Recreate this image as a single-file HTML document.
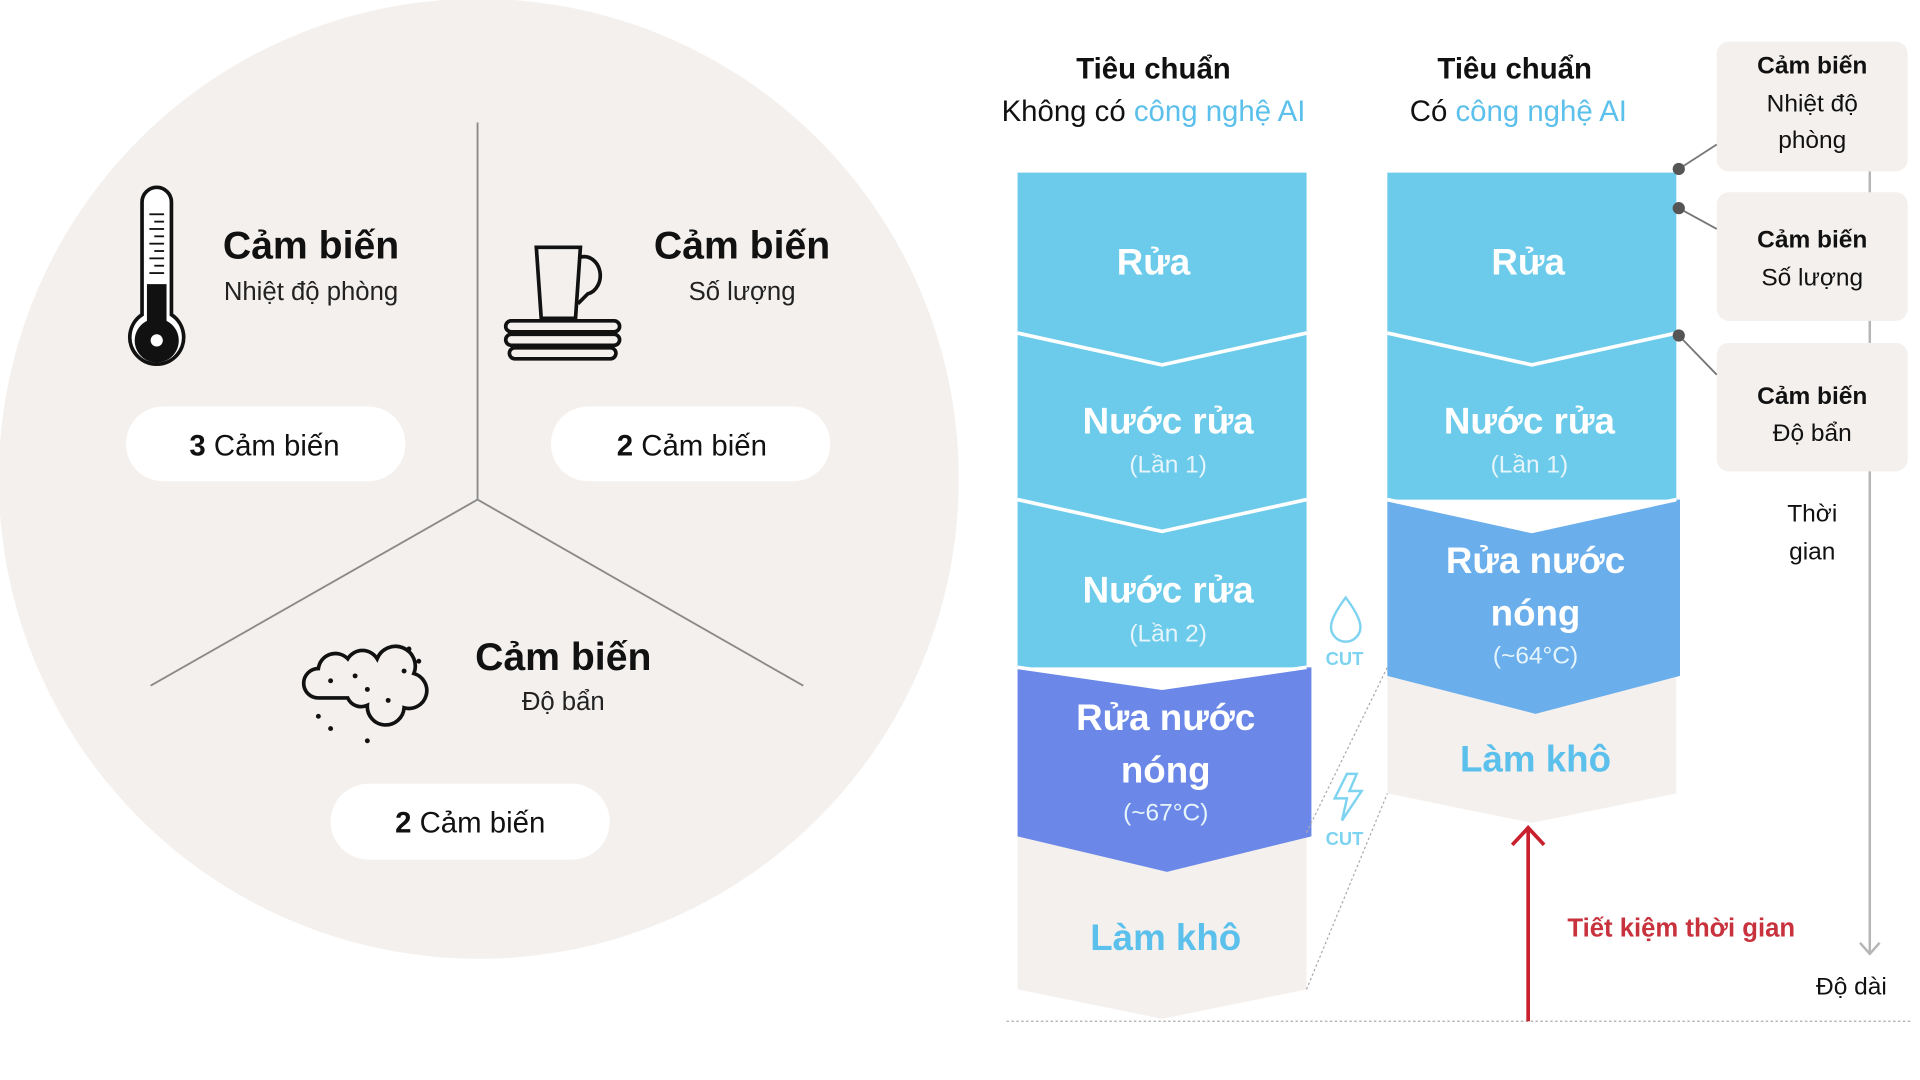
<!DOCTYPE html>
<html><head><meta charset="utf-8"><style>
html,body{margin:0;padding:0;background:#fff;width:1920px;height:1080px;overflow:hidden}
svg{display:block}
text{font-family:"Liberation Sans","DejaVu Sans",sans-serif}
.b{font-weight:bold}
</style></head><body>
<svg width="1920" height="1080" viewBox="0 0 1568 882" xmlns="http://www.w3.org/2000/svg">
<circle cx="391" cy="391" r="392" fill="#f3f0ee"/>
<g stroke="#8a8a8a" stroke-width="1.5" fill="none">
<line x1="390" y1="100" x2="390" y2="408"/>
<line x1="390" y1="408" x2="123" y2="560"/>
<line x1="390" y1="408" x2="656" y2="560"/>
</g>
<g stroke="#111" fill="none" stroke-width="3">
<path d="M116 165 a12 12 0 0 1 24 0 v92 a22 22 0 1 1 -24 0 z" fill="#fff"/>
</g>
<path d="M120 232 h16 v30 a18 18 0 1 1 -16 0z" fill="#111"/>
<circle cx="128" cy="278" r="5" fill="#fff"/>
<g stroke="#111" stroke-width="1.5">
<line x1="122" y1="175" x2="134" y2="175"/><line x1="126" y1="181" x2="134" y2="181"/><line x1="122" y1="187" x2="134" y2="187"/><line x1="126" y1="193" x2="134" y2="193"/><line x1="122" y1="199" x2="134" y2="199"/><line x1="126" y1="205" x2="134" y2="205"/><line x1="122" y1="211" x2="134" y2="211"/><line x1="126" y1="217" x2="134" y2="217"/><line x1="122" y1="223" x2="134" y2="223"/>
</g>
<text x="254" y="211" font-size="32" class="b" text-anchor="middle" fill="#111">Cảm biến</text>
<text x="254" y="245" font-size="21" text-anchor="middle" fill="#222">Nhiệt độ phòng</text>
<rect x="103" y="332" width="228" height="61" rx="30" fill="#fff"/>
<text x="216" y="372" font-size="24" text-anchor="middle" fill="#111"><tspan class="b">3</tspan> Cảm biến</text>
<g stroke="#111" stroke-width="3" fill="none">
<path d="M438 202 h36 l-4 58 h-28 z"/>
<path d="M474 210 a12 14 0 0 1 6 30 l-8 8"/>
<rect x="413" y="262" width="93" height="9" rx="4.5"/>
<rect x="413" y="273" width="93" height="9" rx="4.5"/>
<rect x="416" y="284" width="87" height="9" rx="4.5"/>
</g>
<text x="606" y="211" font-size="32" class="b" text-anchor="middle" fill="#111">Cảm biến</text>
<text x="606" y="245" font-size="21" text-anchor="middle" fill="#222">Số lượng</text>
<rect x="450" y="332" width="228" height="61" rx="30" fill="#fff"/>
<text x="565" y="372" font-size="24" text-anchor="middle" fill="#111"><tspan class="b">2</tspan> Cảm biến</text>
<g stroke="#111" stroke-width="3" fill="none">
<path d="M260 570 a12 12 0 0 1 0 -24 a14 14 0 0 1 24 -8 a14 14 0 0 1 24 0 a16 16 0 0 1 30 12 a14 14 0 0 1 -8 28 a14 14 0 0 1 -30 -2 a12 12 0 0 1 -16 -6 z"/>
</g>
<g fill="#111"><circle cx="270" cy="556" r="2"/><circle cx="300" cy="563" r="2"/><circle cx="317" cy="572" r="2"/><circle cx="330" cy="548" r="2"/><circle cx="334" cy="530" r="2"/><circle cx="342" cy="540" r="2"/><circle cx="260" cy="585" r="2"/><circle cx="270" cy="595" r="2"/><circle cx="300" cy="605" r="2"/><circle cx="290" cy="552" r="2"/></g>
<text x="460" y="547" font-size="32" class="b" text-anchor="middle" fill="#111">Cảm biến</text>
<text x="460" y="580" font-size="21" text-anchor="middle" fill="#222">Độ bẩn</text>
<rect x="270" y="640" width="228" height="62" rx="31" fill="#fff"/>
<text x="384" y="680" font-size="24" text-anchor="middle" fill="#111"><tspan class="b">2</tspan> Cảm biến</text>

<text x="942" y="64" font-size="24" class="b" text-anchor="middle" fill="#111">Tiêu chuẩn</text>
<text x="942" y="99" font-size="24" text-anchor="middle" fill="#111">Không có <tspan fill="#5bc0eb">công nghệ AI</tspan></text>
<text x="1237" y="64" font-size="24" class="b" text-anchor="middle" fill="#111">Tiêu chuẩn</text>
<text x="1240" y="99" font-size="24" text-anchor="middle" fill="#111">Có <tspan fill="#5bc0eb">công nghệ AI</tspan></text>

<polygon points="831,683 1067,683 1067,808 949,832 831,808" fill="#f4f0ee"/>
<polygon points="831,141 1067,141 1067,545 831,545" fill="#6ccbea"/>
<polygon points="831,545 949,562 1067,545 1071,545 1071,683 953,712 831,683" fill="#6b88e8"/>
<g stroke="#fff" stroke-width="3" fill="none">
<polyline points="831,272 949,298 1067,272"/>
<polyline points="831,408 949,434 1067,408"/>
<polyline points="831,545 949,562 1067,545"/>
</g>
<g fill="#fff" text-anchor="middle">
<text x="942" y="224" font-size="30" class="b">Rửa</text>
<text x="954" y="354" font-size="30" class="b">Nước rửa</text>
<text x="954" y="492" font-size="30" class="b">Nước rửa</text>
<text x="952" y="596" font-size="30" class="b">Rửa nước</text>
<text x="952" y="639" font-size="30" class="b">nóng</text>
</g>
<g fill="#e6f5fb" text-anchor="middle" font-size="20">
<text x="954" y="386">(Lần 1)</text>
<text x="954" y="524">(Lần 2)</text>
<text x="952" y="670">(~67°C)</text>
</g>
<text x="952" y="776" font-size="30" class="b" text-anchor="middle" fill="#5bc0eb">Làm khô</text>

<polygon points="1133,552 1369,552 1369,648 1251,672 1133,648" fill="#f4f0ee"/>
<polygon points="1133,141 1369,141 1369,408 1133,408" fill="#6ccbea"/>
<polygon points="1133,408 1251,434 1369,408 1372,408 1372,552 1254,583 1133,552" fill="#6aaeec"/>
<g stroke="#fff" stroke-width="3" fill="none">
<polyline points="1133,272 1251,298 1369,272"/>
<polyline points="1133,408 1251,434 1369,408"/>
</g>
<g fill="#fff" text-anchor="middle">
<text x="1248" y="224" font-size="30" class="b">Rửa</text>
<text x="1249" y="354" font-size="30" class="b">Nước rửa</text>
<text x="1254" y="468" font-size="30" class="b">Rửa nước</text>
<text x="1254" y="511" font-size="30" class="b">nóng</text>
<text x="1249" y="386" font-size="20" fill="#e6f5fb">(Lần 1)</text>
<text x="1254" y="542" font-size="20" fill="#e6f5fb">(~64°C)</text>
</g>
<text x="1254" y="630" font-size="30" class="b" text-anchor="middle" fill="#5bc0eb">Làm khô</text>

<g stroke="#aaa" stroke-width="1" stroke-dasharray="2,2" fill="none">
<line x1="1067" y1="680" x2="1133" y2="545"/>
<line x1="1067" y1="808" x2="1133" y2="648"/>
<line x1="822" y1="834" x2="1560" y2="834"/>
</g>
<path d="M1099 488 q-12 16 -12 24 a12 12 0 0 0 24 0 q0 -8 -12 -24z" fill="none" stroke="#7dd3f0" stroke-width="2"/>
<text x="1098" y="543" font-size="15" class="b" text-anchor="middle" fill="#7dd3f0">CUT</text>
<path d="M1100 632 l-10 20 h10 l-4 18 l16 -24 h-10 l6 -14 z" fill="none" stroke="#7dd3f0" stroke-width="2"/>
<text x="1098" y="690" font-size="15" class="b" text-anchor="middle" fill="#7dd3f0">CUT</text>

<line x1="1527" y1="140" x2="1527" y2="778" stroke="#b5b5b5" stroke-width="2"/>
<polyline points="1519,770 1527,779 1535,770" stroke="#b5b5b5" stroke-width="2" fill="none"/>
<g fill="#f3f0ee">
<rect x="1402" y="34" width="156" height="106" rx="10"/>
<rect x="1402" y="157" width="156" height="105" rx="10"/>
<rect x="1402" y="280" width="156" height="105" rx="10"/>
</g>
<g stroke="#777" stroke-width="1.5">
<line x1="1371" y1="138" x2="1402" y2="118"/>
<line x1="1371" y1="170" x2="1402" y2="187"/>
<line x1="1371" y1="274" x2="1402" y2="306"/>
</g>
<g fill="#555"><circle cx="1371" cy="138" r="5"/><circle cx="1371" cy="170" r="5"/><circle cx="1371" cy="274" r="5"/></g>
<g text-anchor="middle" fill="#111" font-size="20">
<text x="1480" y="60" class="b">Cảm biến</text>
<text x="1480" y="91">Nhiệt độ</text>
<text x="1480" y="121">phòng</text>
<text x="1480" y="202" class="b">Cảm biến</text>
<text x="1480" y="233">Số lượng</text>
<text x="1480" y="330" class="b">Cảm biến</text>
<text x="1480" y="360">Độ bẩn</text>
<text x="1480" y="426">Thời</text>
<text x="1480" y="457">gian</text>
<text x="1512" y="812">Độ dài</text>
</g>
<line x1="1248" y1="834" x2="1248" y2="677" stroke="#c8202c" stroke-width="3"/>
<polyline points="1235,690 1248,676 1261,690" stroke="#c8202c" stroke-width="3" fill="none"/>
<text x="1373" y="765" font-size="21" class="b" text-anchor="middle" fill="#c8323c">Tiết kiệm thời gian</text>
</svg>
</body></html>
